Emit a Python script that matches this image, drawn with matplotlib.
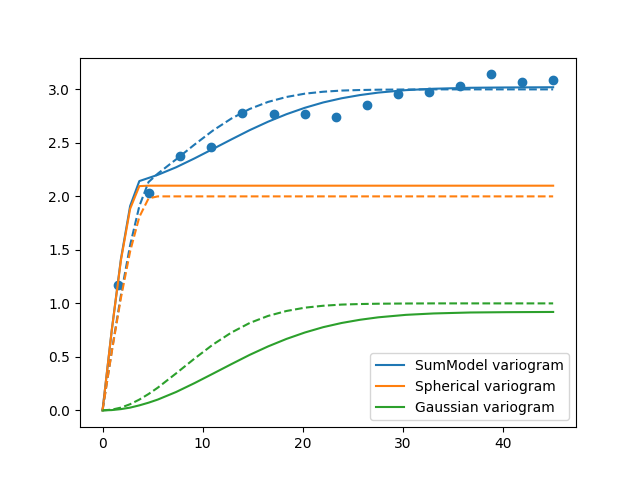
import matplotlib
matplotlib.use("Agg")
import matplotlib.pyplot as plt

# empirical variogram (bin centers / estimated gamma)
bin_center = [1.57, 4.60, 7.70, 10.80, 13.97, 17.08, 20.18, 23.29, 26.40,
              29.50, 32.61, 35.72, 38.82, 41.93, 45.03]
gamma = [1.17, 2.03, 2.38, 2.46, 2.78, 2.77, 2.77, 2.74, 2.85,
         2.96, 2.98, 3.03, 3.14, 3.07, 3.09]

# lags where the model curves were read
lags = [0.0, 0.918, 1.837, 2.755, 3.673, 4.592, 5.510, 7.347, 9.184, 11.020,
        12.857, 14.694, 16.531, 18.367, 20.204, 22.041, 23.878, 25.714,
        27.551, 30.306, 33.061, 36.735, 40.408, 45.0]

# fitted models (solid)
sum_fit = [0.0, 0.749, 1.416, 1.910, 2.143, 2.172, 2.201, 2.272, 2.355, 2.443,
           2.532, 2.619, 2.698, 2.768, 2.828, 2.878, 2.917, 2.947,
           2.970, 2.993, 3.006, 3.015, 3.018, 3.020]
sph_fit = [0.0, 0.746, 1.404, 1.884, 2.096, 2.1, 2.1, 2.1, 2.1, 2.1,
           2.1, 2.1, 2.1, 2.1, 2.1, 2.1, 2.1, 2.1,
           2.1, 2.1, 2.1, 2.1, 2.1, 2.1]
gau_fit = [0.0, 0.003, 0.012, 0.026, 0.047, 0.072, 0.101, 0.172, 0.255, 0.343,
           0.432, 0.519, 0.598, 0.668, 0.728, 0.778, 0.817, 0.847,
           0.870, 0.893, 0.906, 0.915, 0.918, 0.920]

# true models (dashed)
sum_true = [0.0, 0.552, 1.078, 1.544, 1.909, 2.134, 2.212, 2.346, 2.484, 2.615,
            2.727, 2.817, 2.883, 2.929, 2.960, 2.978, 2.989, 2.994,
            2.997, 2.999, 3.0, 3.0, 3.0, 3.0]
sph_true = [0.0, 0.545, 1.052, 1.486, 1.808, 1.981, 2.0, 2.0, 2.0, 2.0,
            2.0, 2.0, 2.0, 2.0, 2.0, 2.0, 2.0, 2.0,
            2.0, 2.0, 2.0, 2.0, 2.0, 2.0]
gau_true = [0.0, 0.007, 0.026, 0.058, 0.101, 0.153, 0.212, 0.346, 0.484, 0.615,
            0.727, 0.817, 0.883, 0.929, 0.960, 0.978, 0.989, 0.994,
            0.997, 0.999, 1.0, 1.0, 1.0, 1.0]

fig, ax = plt.subplots(figsize=(6.4, 4.8), dpi=100)

ax.plot(lags, sum_fit, color="C0", label="SumModel variogram")
ax.plot(lags, sph_fit, color="C1", label="Spherical variogram")
ax.plot(lags, gau_fit, color="C2", label="Gaussian variogram")

ax.plot(lags, sum_true, color="C0", ls="--")
ax.plot(lags, sph_true, color="C1", ls="--")
ax.plot(lags, gau_true, color="C2", ls="--")

ax.scatter(bin_center, gamma, color="C0")
ax.legend(loc="lower right")

fig.savefig("out.png")
